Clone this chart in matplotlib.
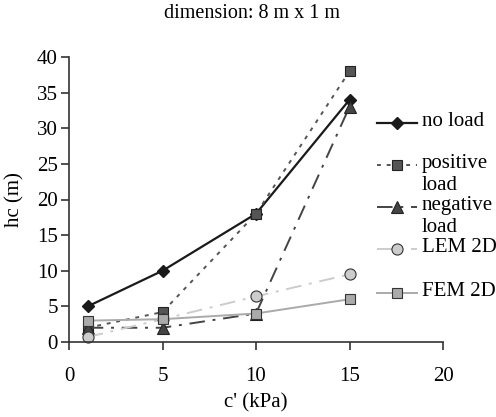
import matplotlib.pyplot as plt
from matplotlib.lines import Line2D

plt.rcParams['font.family'] = ['Liberation Serif', 'DejaVu Serif']

c_kpa = [1, 5, 10, 15]
no_load = [5, 10, 18, 34]
positive_load = [2, 4.2, 18, 38]
negative_load = [2, 2, 4, 33]
lem_2d = [0.7, 3.2, 6.4, 9.5]
fem_2d = [3, 3.2, 4, 6]

labels = ['no load', 'positive\nload', 'negative\nload', 'LEM 2D', 'FEM 2D']
xticks = [0, 5, 10, 15, 20]
yticks = [0, 5, 10, 15, 20, 25, 30, 35, 40]

W, H = 496, 417
fig = plt.figure(figsize=(W / 100, H / 100), dpi=100, facecolor='white')
ax = fig.add_axes([69 / W, 1 - 342 / H, (443 - 69) / W, (342 - 57) / H])

styles = [
    dict(color='#1a1a1a', lw=1.6, ls='-', marker='D', ms=6.5, mfc='#1a1a1a', mec='#1a1a1a'),
    dict(color='#555555', lw=1.4, ls=(0, (2, 3)), marker='s', ms=7, mfc='#555555', mec='#222222', mew=0.8),
    dict(color='#444444', lw=1.4, ls=(0, (8, 4, 1.5, 4)), marker='^', ms=8, mfc='#444444', mec='#222222', mew=0.8),
    dict(color='#cccccc', lw=1.4, ls=(0, (8, 4, 1.5, 4)), marker='o', ms=8, mfc='#cccccc', mec='#333333', mew=0.8),
    dict(color='#aaaaaa', lw=1.4, ls='-', marker='s', ms=7, mfc='#aaaaaa', mec='#333333', mew=0.8),
]
series = [no_load, positive_load, negative_load, lem_2d, fem_2d]

for vals, st in zip(series, styles):
    ax.plot(c_kpa, vals, clip_on=False, **st)

ax.set_xlim(0, 20)
ax.set_ylim(0, 40)
ax.set_xticks(xticks)
ax.set_yticks(yticks)
ax.spines['top'].set_visible(False)
ax.spines['right'].set_visible(False)
for s in ['left', 'bottom']:
    ax.spines[s].set_color('#333333')
    ax.spines[s].set_linewidth(1.2)
ax.tick_params(axis='both', direction='out', length=6, width=1.2, color='#333333', labelsize=15)
ax.tick_params(axis='x', pad=12)
ax.tick_params(axis='y', pad=2)
ax.set_facecolor('none')

ax.set_xlabel("c' (kPa)", fontsize=15, labelpad=5)
ax.set_ylabel('hc (m)', fontsize=15, labelpad=9)
fig.text(252 / W, 1 - 14 / H, 'dimension: 8 m x 1 m', ha='center', va='center', fontsize=14.5)

# legend drawn by hand, Excel-style (wrapped labels run into the next entry)
leg_y = [123, 165, 207, 249, 293]
for lab, st, yp in zip(labels, styles, leg_y):
    y = 1 - yp / H
    ln = Line2D([377 / W, 417 / W], [y, y], transform=fig.transFigure, markevery=[], **st)
    fig.add_artist(ln)
    mk = Line2D([397 / W], [y], transform=fig.transFigure, ls='none',
                **{k: v for k, v in st.items() if k not in ('ls', 'lw', 'color')})
    fig.add_artist(mk)
    fig.text(422 / W, y + 11 / H, lab, ha='left', va='top', fontsize=15, linespacing=1.2)

fig.savefig('out.png', dpi=100, facecolor='white')
